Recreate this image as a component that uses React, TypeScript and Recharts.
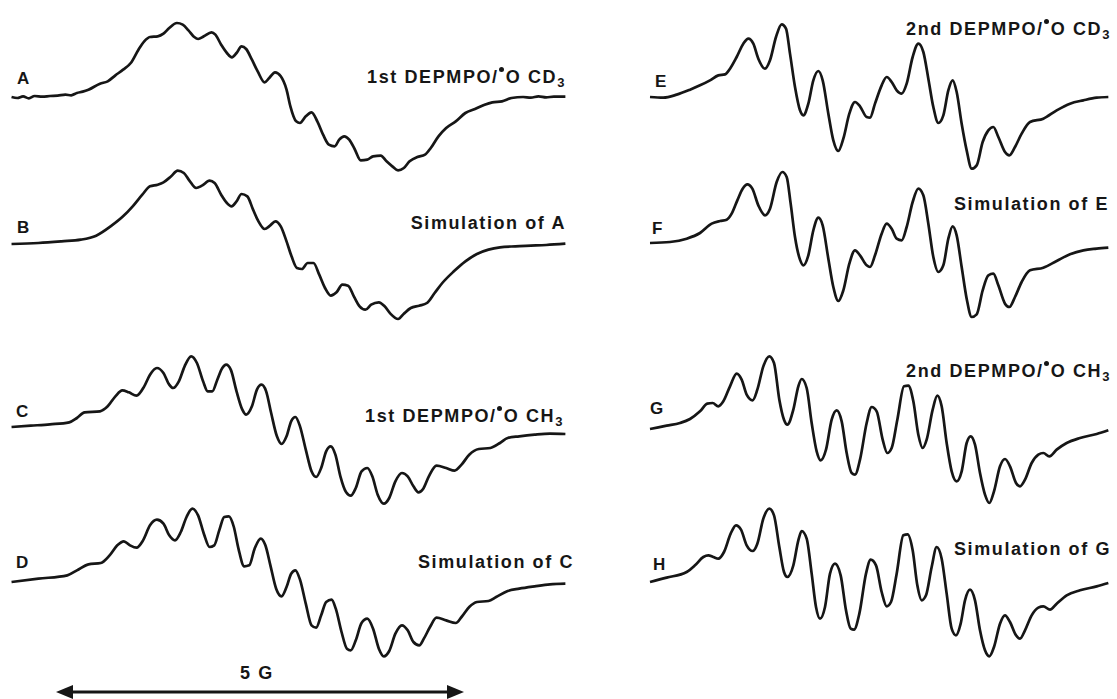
import React from "react";
import { LineChart, Line, XAxis, YAxis } from "recharts";

// field positions (arb. units, left panel 0-1560, right panel 0-1461) and signal (arb.)
const fieldA = [30, 45, 60, 75, 90, 110, 130, 150, 170, 185, 200, 215, 230, 260, 280, 300, 320, 340, 360, 375, 390, 410, 425, 440, 460, 475, 490, 505, 515, 530, 550, 560, 575, 590, 603, 615, 628, 640, 655, 670, 688, 700, 715, 730, 745, 755, 770, 780, 795, 810, 825, 840, 855, 870, 882, 895, 908, 922, 938, 955, 970, 990, 1005, 1020, 1035, 1050, 1065, 1085, 1105, 1120, 1140, 1160, 1185, 1210, 1235, 1260, 1280, 1305, 1330, 1360, 1380, 1400, 1420, 1440, 1470];
const signalA = [0, -3, 2, -4, 3, 1, 3, 4, 7, 5, 12, 16, 22, 40, 47, 65, 82, 102, 142, 167, 180, 182, 190, 207, 222, 217, 200, 180, 174, 182, 194, 187, 157, 132, 119, 132, 152, 144, 112, 77, 44, 57, 74, 62, 22, -28, -73, -78, -58, -46, -73, -113, -143, -148, -128, -118, -128, -156, -190, -188, -178, -176, -193, -208, -220, -213, -193, -180, -173, -153, -118, -93, -73, -48, -36, -23, -16, -13, -3, 0, -2, 2, -1, 1, 1];

const fieldB = [30, 100, 160, 210, 250, 290, 320, 345, 370, 390, 410, 425, 445, 462, 478, 492, 510, 525, 545, 558, 575, 590, 602, 615, 628, 643, 658, 672, 688, 702, 716, 730, 745, 758, 772, 785, 800, 815, 830, 845, 860, 875, 890, 905, 920, 935, 950, 965, 985, 1000, 1015, 1035, 1050, 1068, 1090, 1110, 1130, 1150, 1180, 1210, 1240, 1270, 1300, 1340, 1380, 1420, 1470];
const signalB = [0, 3, 8, 13, 25, 55, 83, 113, 148, 173, 178, 185, 203, 220, 213, 191, 168, 175, 190, 183, 148, 123, 113, 128, 150, 143, 103, 68, 45, 55, 68, 53, 8, -37, -72, -75, -57, -57, -92, -132, -155, -145, -122, -125, -157, -187, -197, -182, -175, -187, -209, -225, -209, -192, -185, -177, -147, -117, -82, -52, -30, -17, -10, -7, -5, -3, 1];

const fieldC = [30, 80, 130, 180, 200, 220, 260, 280, 300, 318, 335, 355, 375, 390, 408, 425, 440, 450, 465, 480, 497, 512, 528, 540, 552, 565, 578, 588, 600, 615, 630, 640, 655, 668, 680, 692, 705, 720, 732, 745, 757, 768, 780, 795, 810, 822, 835, 848, 860, 872, 885, 900, 912, 925, 940, 955, 968, 982, 998, 1012, 1028, 1045, 1060, 1075, 1088, 1100, 1115, 1135, 1160, 1182, 1200, 1220, 1245, 1275, 1300, 1320, 1350, 1390, 1430, 1470];
const signalC = [0, 4, 8, 14, 27, 44, 47, 62, 92, 110, 104, 94, 122, 157, 177, 162, 127, 117, 137, 182, 212, 192, 137, 107, 107, 142, 177, 187, 172, 107, 52, 37, 62, 112, 127, 107, 42, -28, -51, -28, 17, 30, 2, -68, -133, -150, -123, -73, -58, -83, -148, -196, -206, -183, -133, -123, -148, -203, -230, -213, -163, -138, -148, -178, -196, -186, -148, -116, -123, -131, -113, -83, -66, -63, -48, -33, -28, -23, -20, -21];

const fieldD = [30, 100, 175, 200, 230, 262, 285, 305, 322, 338, 355, 372, 390, 408, 425, 440, 455, 470, 485, 500, 515, 530, 545, 557, 570, 583, 595, 608, 620, 635, 648, 662, 678, 690, 703, 718, 732, 745, 757, 768, 780, 795, 810, 822, 835, 848, 862, 873, 888, 902, 912, 925, 940, 955, 970, 985, 998, 1012, 1028, 1045, 1060, 1075, 1090, 1102, 1118, 1135, 1160, 1185, 1200, 1220, 1240, 1270, 1290, 1320, 1350, 1390, 1430, 1470];
const signalD = [0, 10, 20, 35, 53, 57, 80, 110, 122, 110, 103, 125, 170, 187, 175, 140, 125, 150, 195, 220, 200, 145, 105, 110, 155, 195, 197, 165, 100, 47, 50, 100, 130, 110, 50, -20, -43, -15, 25, 35, 7, -65, -130, -137, -100, -60, -53, -80, -150, -200, -205, -175, -123, -110, -140, -200, -223, -207, -155, -130, -145, -180, -190, -170, -135, -107, -115, -123, -105, -75, -60, -57, -45, -27, -20, -13, -7, -5];

const fieldE = [60, 100, 140, 180, 210, 240, 265, 285, 300, 320, 340, 355, 370, 385, 405, 420, 438, 455, 468, 480, 495, 510, 520, 535, 550, 565, 578, 595, 610, 625, 640, 658, 675, 690, 710, 720, 735, 755, 770, 785, 800, 815, 830, 848, 865, 880, 895, 910, 925, 940, 955, 968, 980, 995, 1010, 1025, 1040, 1058, 1075, 1090, 1105, 1125, 1138, 1155, 1175, 1200, 1240, 1280, 1320, 1360, 1400, 1435];
const signalE = [0, -2, 7, 22, 35, 50, 65, 68, 85, 120, 160, 175, 160, 115, 85, 110, 180, 218, 205, 130, 30, -40, -55, -20, 50, 78, 50, -50, -130, -162, -125, -50, -15, -28, -60, -62, -20, 35, 60, 45, 20, 10, 40, 120, 160, 135, 55, -30, -78, -55, 20, 50, 15, -80, -160, -215, -205, -135, -100, -90, -120, -165, -175, -150, -110, -75, -65, -40, -20, -10, -2, 0];

const fieldF = [60, 120, 170, 210, 245, 270, 290, 305, 322, 338, 352, 367, 385, 405, 420, 440, 457, 470, 482, 495, 510, 520, 535, 550, 565, 578, 595, 610, 625, 640, 658, 675, 690, 710, 720, 735, 755, 770, 785, 800, 815, 830, 848, 865, 880, 895, 910, 925, 940, 955, 968, 980, 995, 1010, 1025, 1040, 1058, 1075, 1090, 1105, 1125, 1138, 1155, 1175, 1200, 1240, 1280, 1320, 1360, 1400, 1435];
const signalF = [0, 3, 13, 30, 58, 66, 70, 88, 128, 163, 176, 163, 113, 83, 103, 183, 213, 198, 118, 18, -50, -67, -37, 38, 76, 53, -47, -132, -174, -142, -62, -22, -37, -67, -72, -37, 28, 58, 43, 13, 8, 48, 123, 163, 143, 58, -42, -87, -67, 13, 50, 23, -72, -167, -222, -214, -142, -97, -92, -127, -182, -192, -162, -117, -82, -74, -54, -34, -22, -17, -14];

const fieldG = [60, 110, 150, 180, 210, 232, 248, 265, 280, 300, 320, 335, 350, 368, 382, 400, 418, 432, 448, 462, 472, 490, 505, 515, 530, 545, 560, 572, 588, 605, 620, 635, 650, 665, 675, 690, 710, 725, 740, 758, 772, 785, 802, 822, 835, 850, 865, 878, 890, 908, 922, 935, 950, 965, 980, 995, 1010, 1022, 1035, 1050, 1065, 1078, 1092, 1110, 1125, 1140, 1158, 1170, 1185, 1205, 1225, 1240, 1258, 1280, 1310, 1350, 1400, 1435];
const signalG = [0, 10, 18, 30, 53, 76, 78, 68, 83, 128, 166, 148, 103, 86, 118, 188, 218, 198, 88, 28, 13, 58, 128, 150, 123, 18, -67, -94, -62, 28, 56, 23, -72, -132, -137, -92, 18, 66, 53, -32, -72, -57, 28, 128, 130, 83, -17, -57, -32, 58, 100, 68, -42, -127, -157, -127, -42, -22, -47, -132, -197, -222, -187, -112, -90, -112, -162, -172, -152, -102, -77, -72, -82, -62, -42, -27, -15, -4];

const fieldH = [60, 110, 170, 195, 220, 235, 250, 265, 282, 302, 318, 333, 350, 368, 382, 400, 418, 432, 448, 462, 472, 490, 505, 515, 530, 545, 558, 570, 585, 600, 615, 632, 648, 662, 672, 688, 708, 722, 738, 755, 770, 783, 800, 820, 833, 848, 862, 875, 888, 905, 920, 935, 950, 965, 978, 992, 1005, 1020, 1035, 1050, 1065, 1078, 1092, 1110, 1125, 1140, 1158, 1170, 1185, 1205, 1225, 1240, 1260, 1280, 1310, 1350, 1400, 1435];
const signalH = [0, 13, 30, 50, 75, 80, 75, 70, 90, 145, 170, 157, 110, 93, 115, 190, 220, 200, 105, 30, 15, 50, 125, 153, 130, 25, -75, -110, -75, 25, 55, 20, -85, -140, -143, -95, 25, 67, 50, -30, -73, -60, 25, 140, 143, 95, -10, -55, -40, 45, 105, 70, -35, -140, -160, -125, -55, -23, -55, -145, -205, -223, -195, -125, -100, -120, -160, -170, -145, -100, -77, -73, -83, -65, -40, -25, -13, -3];

const traceLabels = ["A", "B", "C", "D", "E", "F", "G", "H"];
const leftTitles = ["1st DEPMPO/", "Simulation of A", "1st DEPMPO/", "Simulation of C"];
const rightTitles = ["2nd DEPMPO/", "Simulation of E", "2nd DEPMPO/", "Simulation of G"];

const INK = "#161616";
const FONT = "'Liberation Sans', Arial, Helvetica, sans-serif";

type Panel = { left: number; width: number; span: number };
const LEFT: Panel = { left: 0, width: 600, span: 1560 };
const RIGHT: Panel = { left: 630, width: 487, span: 1461 };

const traces = [
  { id: "A", field: fieldA, signal: signalA, panel: LEFT, baseY: 97.3 },
  { id: "B", field: fieldB, signal: signalB, panel: LEFT, baseY: 244.3 },
  { id: "C", field: fieldC, signal: signalC, panel: LEFT, baseY: 427.3 },
  { id: "D", field: fieldD, signal: signalD, panel: LEFT, baseY: 581.7 },
  { id: "E", field: fieldE, signal: signalE, panel: RIGHT, baseY: 96.7 },
  { id: "F", field: fieldF, signal: signalF, panel: RIGHT, baseY: 242.7 },
  { id: "G", field: fieldG, signal: signalG, panel: RIGHT, baseY: 429.3 },
  { id: "H", field: fieldH, signal: signalH, panel: RIGHT, baseY: 581.7 },
];

// 3 signal units per pixel
const UP = 300;
const DOWN = 540;

function Trace({ field, signal, panel, baseY }: any) {
  const data = field.map((f: number, i: number) => ({ f, s: signal[i] }));
  const height = (UP + DOWN) / 3;
  return (
    <div style={{ position: "absolute", left: panel.left, top: baseY - UP / 3 }}>
      <LineChart width={panel.width} height={height} data={data} margin={{ top: 0, right: 0, bottom: 0, left: 0 }}>
        <XAxis type="number" dataKey="f" domain={[0, panel.span]} allowDataOverflow hide />
        <YAxis type="number" domain={[-DOWN, UP]} allowDataOverflow hide />
        <Line
          type="monotone"
          dataKey="s"
          stroke={INK}
          strokeWidth={2.7}
          strokeLinejoin="round"
          dot={false}
          isAnimationActive={false}
        />
      </LineChart>
    </div>
  );
}

const textBase: React.CSSProperties = {
  position: "absolute",
  fontFamily: FONT,
  fontWeight: 700,
  fontSize: 18,
  lineHeight: "18px",
  color: INK,
  whiteSpace: "nowrap",
};

function Radical({ tail }: { tail: string }) {
  return (
    <>
      <span
        style={{
          display: "inline-block",
          width: 5,
          height: 5,
          borderRadius: "50%",
          background: INK,
          position: "relative",
          top: -11,
          marginRight: 2,
        }}
      />
      O&nbsp;C{tail}
      <span style={{ fontSize: 13, position: "relative", top: 4 }}>3</span>
    </>
  );
}

function Title({ text, right, top, tail }: { text: string; right: number; top: number; tail?: string }) {
  return (
    <div style={{ ...textBase, right: 1117 - right, top, letterSpacing: 1.6 }}>
      {text}
      {tail ? <Radical tail={tail} /> : null}
    </div>
  );
}

const labelPos = [
  [17, 70], [17, 219], [16, 403], [16, 554],
  [655, 73], [652, 220], [650, 400], [653, 556],
];

export default function App() {
  return (
    <div style={{ position: "absolute", left: 0, top: 0, width: 1117, height: 699, overflow: "hidden", background: "#fff" }}>
      {traces.map((t) => (
        <Trace key={t.id} {...t} />
      ))}

      {traceLabels.map((l, i) => (
        <div key={l} style={{ ...textBase, fontSize: 17, left: labelPos[i][0], top: labelPos[i][1] }}>
          {l}
        </div>
      ))}

      <Title text={leftTitles[0]} tail="D" right={566} top={68} />
      <Title text={leftTitles[1]} right={566} top={214} />
      <Title text={leftTitles[2]} tail="H" right={564} top={407} />
      <Title text={leftTitles[3]} right={574} top={553} />
      <Title text={rightTitles[0]} tail="D" right={1111} top={20} />
      <Title text={rightTitles[1]} right={1109} top={195} />
      <Title text={rightTitles[2]} tail="H" right={1111} top={362} />
      <Title text={rightTitles[3]} right={1111} top={540} />

      <div style={{ ...textBase, left: 240, top: 664, letterSpacing: 1.6 }}>5 G</div>
      <svg width={1117} height={699} style={{ position: "absolute", left: 0, top: 0 }}>
        <line x1={70} y1={692} x2={450} y2={692} stroke={INK} strokeWidth={3} />
        <polygon points="56,692 73,685 73,699" fill={INK} />
        <polygon points="464,692 447,685 447,699" fill={INK} />
      </svg>
    </div>
  );
}
